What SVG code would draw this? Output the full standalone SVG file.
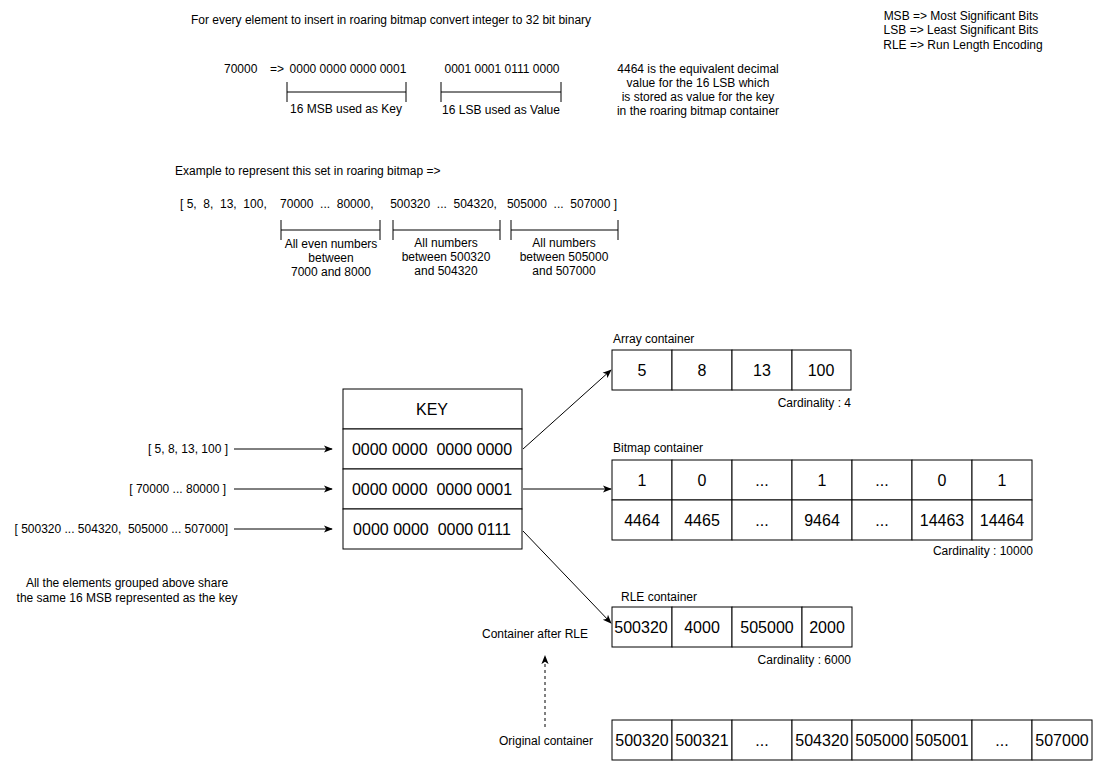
<svg xmlns="http://www.w3.org/2000/svg" width="1093" height="761" viewBox="0 0 1093 761">
<style>
text{font-family:"Liberation Sans",Arial,sans-serif;fill:#000}
.s{font-size:12px}
.m{font-size:12px}
.b{font-size:16px}
.c{text-anchor:middle}
.r{text-anchor:end}
.box{fill:#fff;stroke:#000;stroke-width:1}
.ln{fill:none;stroke:#000;stroke-width:1}
.dash{fill:none;stroke:#000;stroke-width:1;stroke-dasharray:3 3}
</style>
<defs>
<marker id="ah" viewBox="0 0 10 10" refX="9" refY="5" markerWidth="9" markerHeight="9" markerUnits="userSpaceOnUse" orient="auto">
<path d="M0,1 L10,5 L0,9 L2.5,5 Z" fill="#000"/>
</marker>
</defs>
<rect width="1093" height="761" fill="#fff"/>

<g id="intro">
<text class="s" x="391" y="24" text-anchor="middle">For every element to insert in roaring bitmap convert integer to 32 bit binary</text>
<text class="s" x="224" y="73">70000</text>
<text class="s" x="270" y="73">=&gt;</text>
<text class="s" x="348" y="73" text-anchor="middle">0000 0000 0000 0001</text>
<text class="s" x="502" y="73" text-anchor="middle">0001 0001 0111 0000</text>
<path class="ln" d="M287,82 V102 M406,82 V102 M287,92 H406"/>
<path class="ln" d="M441,82 V102 M561,82 V102 M441,92 H561"/>
<text class="s c" x="346" y="113">16 MSB used as Key</text>
<text class="s c" x="501" y="114">16 LSB used as Value</text>
</g>

<g id="note">
<text class="s c" x="698" y="73">4464 is the equivalent decimal</text>
<text class="s c" x="698" y="87">value for the 16 LSB which</text>
<text class="s c" x="698" y="101">is stored as value for the key</text>
<text class="s c" x="698" y="115">in the roaring bitmap container</text>
</g>

<g id="legend">
<text class="s c" x="961" y="20">MSB =&gt; Most Significant Bits</text>
<text class="s c" x="961" y="34">LSB =&gt; Least Significant Bits</text>
<text class="s c" x="963" y="49">RLE =&gt; Run Length Encoding</text>
</g>

<g id="example">
<text class="s" x="175" y="175">Example to represent this set in roaring bitmap =&gt;</text>
<text class="s" x="180" y="208" xml:space="preserve">[ 5,  8,  13,  100,    70000  ...  80000,     500320  ...  504320,   505000  ...  507000 ]</text>
<path class="ln" d="M281,220 V240 M380,220 V240 M281,230 H380"/>
<path class="ln" d="M393,220 V240 M500,220 V240 M393,230 H500"/>
<path class="ln" d="M511,220 V240 M618,220 V240 M511,230 H618"/>
<text class="s c" x="331" y="248">All even numbers</text>
<text class="s c" x="331" y="262">between</text>
<text class="s c" x="331" y="276">7000 and 8000</text>
<text class="s c" x="446" y="247">All numbers</text>
<text class="s c" x="446" y="261">between 500320</text>
<text class="s c" x="446" y="275">and 504320</text>
<text class="s c" x="564" y="247">All numbers</text>
<text class="s c" x="564" y="261">between 505000</text>
<text class="s c" x="564" y="275">and 507000</text>
</g>

<g id="inputs">
<text class="m r" x="228" y="453">[ 5, 8, 13, 100 ]</text>
<text class="m r" x="226" y="493">[ 70000 ... 80000 ]</text>
<text class="m r" x="228" y="533" xml:space="preserve">[ 500320 ... 504320,  505000 ... 507000]</text>
<text class="s c" x="127" y="587">All the elements grouped above share</text>
<text class="s c" x="127" y="602">the same 16 MSB represented as the key</text>
</g>

<g id="key-table">
<rect class="box" x="343" y="389" width="179" height="40"/>
<rect class="box" x="343" y="429" width="179" height="40"/>
<rect class="box" x="343" y="469" width="179" height="40"/>
<rect class="box" x="343" y="509" width="179" height="40"/>
<text class="b c" x="432" y="415">KEY</text>
<text class="b c" x="432" y="455" xml:space="preserve">0000 0000  0000 0000</text>
<text class="b c" x="432" y="495" xml:space="preserve">0000 0000  0000 0001</text>
<text class="b c" x="432" y="535" xml:space="preserve">0000 0000  0000 0111</text>
</g>

<g id="array-container">
<text class="s" x="613" y="343">Array container</text>
<rect class="box" x="612" y="350" width="60" height="40"/>
<rect class="box" x="672" y="350" width="60" height="40"/>
<rect class="box" x="732" y="350" width="60" height="40"/>
<rect class="box" x="792" y="350" width="59" height="40"/>
<text class="b c" x="642" y="376">5</text>
<text class="b c" x="702" y="376">8</text>
<text class="b c" x="762" y="376">13</text>
<text class="b c" x="821" y="376">100</text>
<text class="s r" x="851" y="407">Cardinality : 4</text>
</g>

<g id="bitmap-container">
<text class="s" x="613" y="452">Bitmap container</text>
<rect class="box" x="612" y="460" width="60" height="40"/>
<rect class="box" x="672" y="460" width="60" height="40"/>
<rect class="box" x="732" y="460" width="60" height="40"/>
<rect class="box" x="792" y="460" width="60" height="40"/>
<rect class="box" x="852" y="460" width="60" height="40"/>
<rect class="box" x="912" y="460" width="60" height="40"/>
<rect class="box" x="972" y="460" width="60" height="40"/>
<rect class="box" x="612" y="500" width="60" height="40"/>
<rect class="box" x="672" y="500" width="60" height="40"/>
<rect class="box" x="732" y="500" width="60" height="40"/>
<rect class="box" x="792" y="500" width="60" height="40"/>
<rect class="box" x="852" y="500" width="60" height="40"/>
<rect class="box" x="912" y="500" width="60" height="40"/>
<rect class="box" x="972" y="500" width="60" height="40"/>
<text class="b c" x="642" y="486">1</text>
<text class="b c" x="702" y="486">0</text>
<text class="b c" x="762" y="486">...</text>
<text class="b c" x="822" y="486">1</text>
<text class="b c" x="882" y="486">...</text>
<text class="b c" x="942" y="486">0</text>
<text class="b c" x="1002" y="486">1</text>
<text class="b c" x="642" y="526">4464</text>
<text class="b c" x="702" y="526">4465</text>
<text class="b c" x="762" y="526">...</text>
<text class="b c" x="822" y="526">9464</text>
<text class="b c" x="882" y="526">...</text>
<text class="b c" x="942" y="526">14463</text>
<text class="b c" x="1002" y="526">14464</text>
<text class="s r" x="1033" y="555">Cardinality : 10000</text>
</g>

<g id="rle-container">
<text class="s" x="621" y="601">RLE container</text>
<rect class="box" x="612" y="607" width="60" height="40"/>
<rect class="box" x="672" y="607" width="60" height="40"/>
<rect class="box" x="732" y="607" width="70" height="40"/>
<rect class="box" x="802" y="607" width="50" height="40"/>
<text class="b c" x="641" y="633">500320</text>
<text class="b c" x="702" y="633">4000</text>
<text class="b c" x="767" y="633">505000</text>
<text class="b c" x="827" y="633">2000</text>
<text class="s r" x="851" y="664">Cardinality : 6000</text>
<text class="s c" x="535" y="638">Container after RLE</text>
</g>

<g id="original-container">
<text class="s c" x="546" y="745">Original container</text>
<rect class="box" x="612" y="720" width="60" height="40"/>
<rect class="box" x="672" y="720" width="60" height="40"/>
<rect class="box" x="732" y="720" width="60" height="40"/>
<rect class="box" x="792" y="720" width="60" height="40"/>
<rect class="box" x="852" y="720" width="60" height="40"/>
<rect class="box" x="912" y="720" width="60" height="40"/>
<rect class="box" x="972" y="720" width="60" height="40"/>
<rect class="box" x="1032" y="720" width="60" height="40"/>
<text class="b c" x="642" y="746">500320</text>
<text class="b c" x="702" y="746">500321</text>
<text class="b c" x="762" y="746">...</text>
<text class="b c" x="822" y="746">504320</text>
<text class="b c" x="882" y="746">505000</text>
<text class="b c" x="942" y="746">505001</text>
<text class="b c" x="1002" y="746">...</text>
<text class="b c" x="1062" y="746">507000</text>
</g>

<g id="connectors">
<line class="ln" x1="234" y1="449" x2="332" y2="449" marker-end="url(#ah)"/>
<line class="ln" x1="234" y1="489" x2="332" y2="489" marker-end="url(#ah)"/>
<line class="ln" x1="234" y1="529" x2="332" y2="529" marker-end="url(#ah)"/>
<line class="ln" x1="523" y1="449" x2="611" y2="370" marker-end="url(#ah)"/>
<line class="ln" x1="523" y1="489" x2="611" y2="489" marker-end="url(#ah)"/>
<line class="ln" x1="523" y1="531" x2="611" y2="623" marker-end="url(#ah)"/>
<line class="dash" x1="545" y1="727" x2="545" y2="656" marker-end="url(#ah)"/>
</g>
</svg>
